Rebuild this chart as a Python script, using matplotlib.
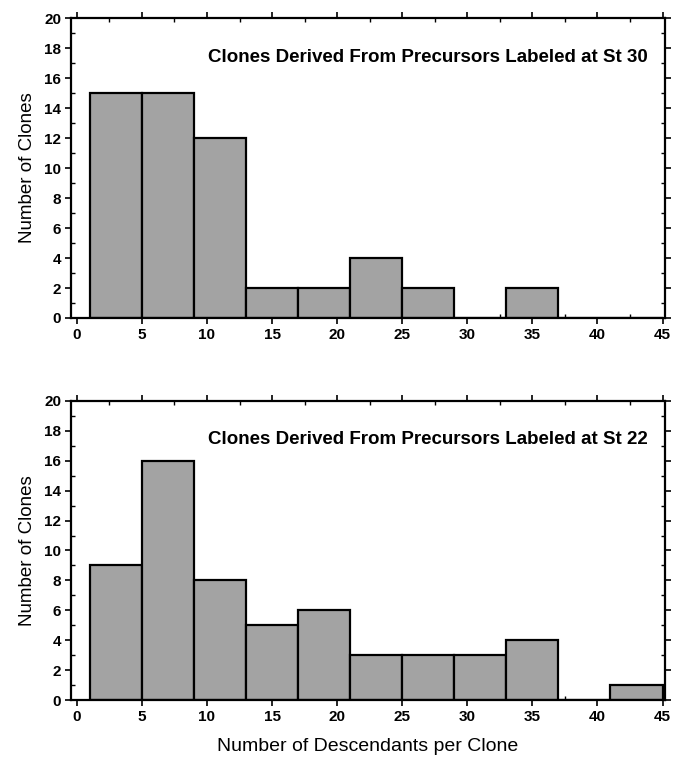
import matplotlib
matplotlib.use("Agg")
import matplotlib.pyplot as plt
from matplotlib.ticker import MultipleLocator

plt.rcParams['font.family'] = ['Liberation Sans', 'DejaVu Sans']

# histogram bins: width 4 starting at 1
bin_edges = [1, 5, 9, 13, 17, 21, 25, 29, 33, 37, 41, 45]
counts_st30 = [15, 15, 12, 2, 2, 4, 2, 0, 2, 0, 0]
counts_st22 = [9, 16, 8, 5, 6, 3, 3, 3, 4, 0, 1]
titles = ["Clones Derived From Precursors Labeled at St 30",
          "Clones Derived From Precursors Labeled at St 22"]
xticks = [0, 5, 10, 15, 20, 25, 30, 35, 40, 45]
yticks = [0, 2, 4, 6, 8, 10, 12, 14, 16, 18, 20]

fig = plt.figure(figsize=(6.78, 7.58), dpi=100)
ax1 = fig.add_axes([0.1047, 0.5805, 0.8763, 0.3955])
ax2 = fig.add_axes([0.1047, 0.0765, 0.8763, 0.3945])

for ax, counts, title in [(ax1, counts_st30, titles[0]), (ax2, counts_st22, titles[1])]:
    lefts = bin_edges[:-1]
    widths = [b - a for a, b in zip(bin_edges[:-1], bin_edges[1:])]
    ax.bar(lefts, counts, width=widths, align='edge', color='#a3a3a3',
           edgecolor='black', linewidth=1.6, zorder=2)
    ax.set_xlim(-0.45, 45.2)
    ax.set_ylim(0, 20)
    ax.set_xticks(xticks)
    ax.set_yticks(yticks)
    ax.xaxis.set_minor_locator(MultipleLocator(2.5))
    ax.yaxis.set_minor_locator(MultipleLocator(1))
    ax.tick_params(axis='both', which='major', direction='out', length=4, width=1.2,
                   labelsize=11, pad=3, top=True, right=True)
    ax.tick_params(axis='both', which='minor', direction='in', length=3, width=1,
                   top=True, right=True)
    for lab in ax.get_xticklabels() + ax.get_yticklabels():
        lab.set_fontweight('bold')
    for sp in ax.spines.values():
        sp.set_linewidth(1.6)
    ax.set_ylabel("Number of Clones", fontsize=13.5, labelpad=6)
    ax.text(43.9, 17.4, title, ha='right', va='center', fontsize=13.5, fontweight='bold')

ax2.set_xlabel("Number of Descendants per Clone", fontsize=14, labelpad=10)

fig.savefig("out.png", dpi=100)
